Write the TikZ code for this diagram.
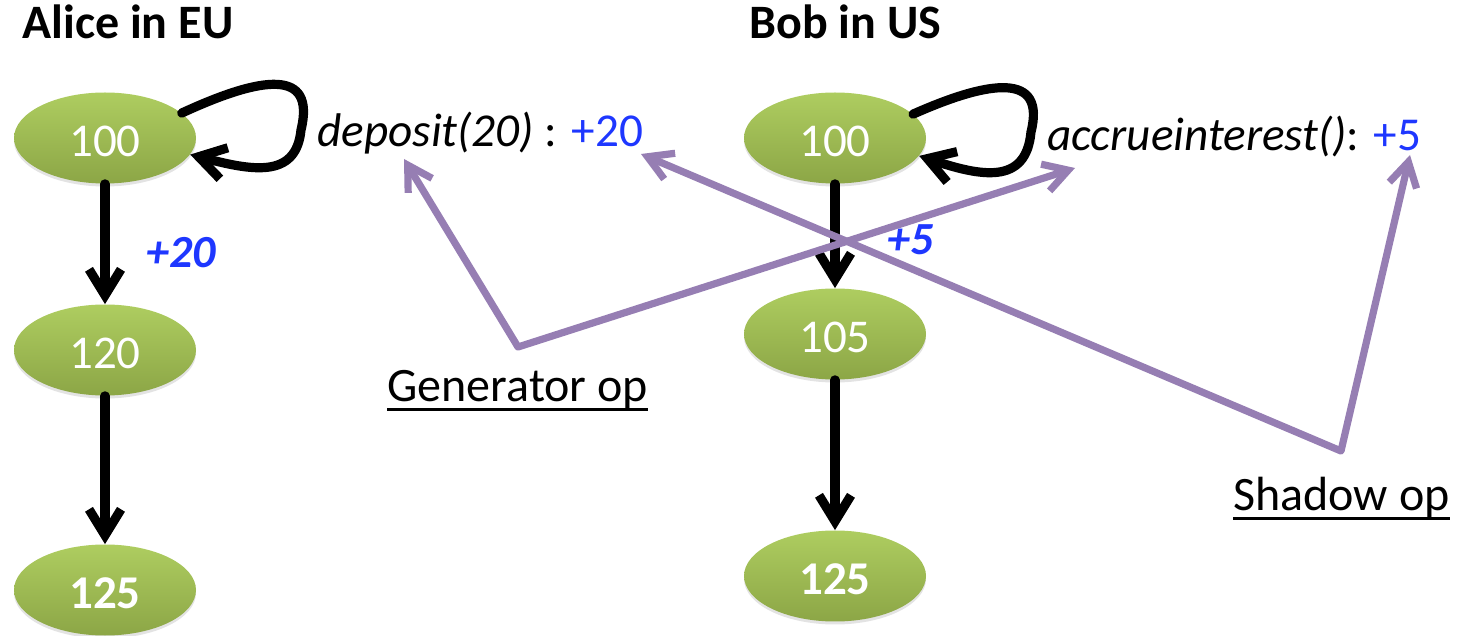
\documentclass[tikz,border=0pt]{standalone}
\usepackage{fontspec}
\setmainfont{Carlito}
\usetikzlibrary{arrows.meta,shapes.geometric,shadows}

\definecolor{olivetop}{RGB}{174,205,96}
\definecolor{olivebot}{RGB}{140,166,70}
\definecolor{oppurple}{RGB}{150,126,179}
\definecolor{opblue}{RGB}{30,55,255}

\begin{document}
\begin{tikzpicture}[x=0.5pt,y=-0.5pt,
  state/.style={ellipse, minimum width=91pt, minimum height=45.5pt, inner sep=0pt,
    text height=19pt, text depth=0pt,
    top color=olivetop, bottom color=olivebot, draw=none, text=white,
    font=\fontsize{23.5}{28}\selectfont,
    drop shadow={opacity=0.22, shadow xshift=0pt, shadow yshift=-1.5pt}},
  finalstate/.style={state, font=\fontsize{23.5}{28}\selectfont\bfseries},
  flow/.style={line width=4.6pt, line cap=round, line join=round,
    -{Straight Barb[length=13pt,width=16pt]}},
  oparrow/.style={draw=oppurple, line width=3.6pt, line cap=round, line join=round,
    {Straight Barb[length=12pt,width=14pt]}-{Straight Barb[length=12pt,width=14pt]}},
  site/.style={font=\fontsize{24}{28}\selectfont\bfseries, inner sep=0pt},
  oplabel/.style={font=\fontsize{23.6}{28}\selectfont, inner sep=0pt},
  delta/.style={font=\fontsize{23}{27}\selectfont\bfseries\itshape, text=opblue, inner sep=0pt},
  kind/.style={font=\fontsize{24}{28}\selectfont, inner sep=0pt},
  uline/.style={line width=1.5pt}
]
\useasboundingbox (0,0) rectangle (1464,636);

% replica titles
\node[site, anchor=base west] (alice) at (22,39) {Alice in EU};
\node[site, anchor=base west] (bob) at (749,39) {Bob in US};

% Alice's replica states
\node[state] (a1) at (105,138) {100};
\node[state] (a2) at (105,350) {120};
\node[finalstate] (a3) at (105,590) {125};

% Bob's replica states
\node[state] (b1) at (835,138) {100};
\node[state] (b2) at (835,334) {105};
\node[finalstate] (b3) at (835,576) {125};

% operation texts
\node[oplabel, anchor=base west] (dep) at (317,147)
  {\textit{deposit(20)} : \textcolor{opblue}{+20}};
\node[oplabel, anchor=base west] (acc) at (1047,151)
  {\textit{accrueinterest()}: \textcolor{opblue}{+5}};

% self loops (generator ops executed at origin)
\draw[flow] (a1.18) .. controls (262,76) and (316,68) .. (301,130)
  .. controls (296,180) and (250,170) .. (a1.-11);
\draw[flow] (b1.17) .. controls (990,80) and (1046,72) .. (1031,132)
  .. controls (1026,186) and (980,176) .. (b1.-12);

% state transitions
\draw[flow] (a1.south) -- (a2.north);
\draw[flow] (a2.south) -- (a3.north);
\draw[flow] (b1.south) -- (b2.north);
\draw[flow] (b2.south) -- (b3.north);

\node[delta, anchor=base west] (d20) at (146,268) {+20};
\node[delta, anchor=base west] (d5) at (887,255) {+5};

% generator / shadow op annotations
\node[kind, anchor=base west] (gen) at (387,402) {Generator op};
\node[kind, anchor=base west] (shd) at (1233,511) {Shadow op};
\draw[uline] ([yshift=-4pt]gen.base west) -- ([yshift=-4pt]gen.base east);
\draw[uline] ([yshift=-4pt]shd.base west) -- ([yshift=-4pt]shd.base east);

\coordinate (gcorner) at (518,347);
\coordinate (gtipdep) at (404,159);
\coordinate (gtipacc) at (1075,168);
\coordinate (scorner) at (1341,451);
\coordinate (stipdep) at (641,154);
\coordinate (stipacc) at (1410,155);

\draw[oparrow] (gtipdep) -- (gcorner) -- (gtipacc);
\draw[oparrow] (stipdep) -- (scorner) -- (stipacc);
\end{tikzpicture}
\end{document}
